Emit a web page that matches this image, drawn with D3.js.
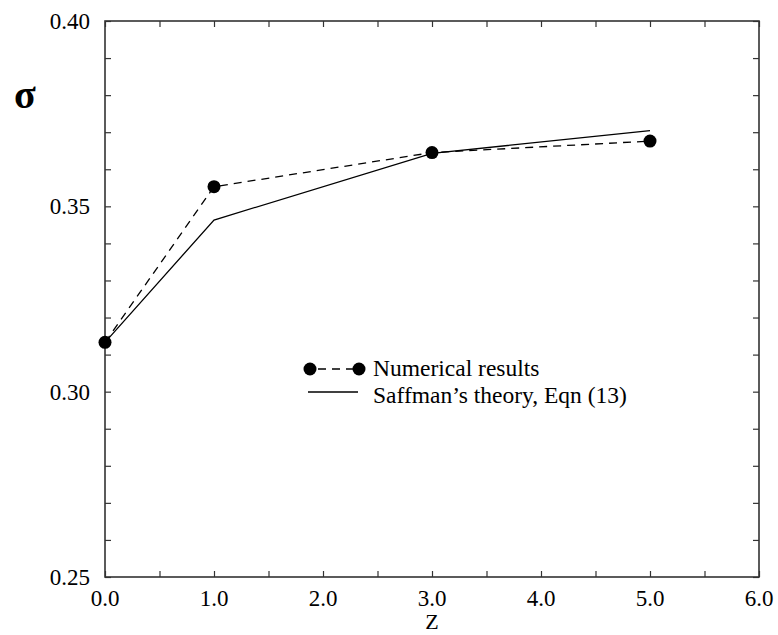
<!DOCTYPE html>
<html>
<head>
<meta charset="utf-8">
<script src="https://cdn.jsdelivr.net/npm/d3@7"></script>
<style>
  body { margin: 0; background: #fff; }
  svg { display: block; font-family: "Liberation Serif", "DejaVu Serif", serif; }
</style>
</head>
<body>
<div id="chart"></div>
<script>
// data
const zValues = [0, 1, 3, 5]
const numerical = [0.3133, 0.3553, 0.3645, 0.3676]
const saffman = [0.3133, 0.3463, 0.3643, 0.3704]
const xTicks = [0, 1, 2, 3, 4, 5, 6]
const yTicks = [0.25, 0.30, 0.35, 0.40]
const legendLabels = ["Numerical results", "Saffman\u2019s theory, Eqn (13)"]

const width = 778, height = 635
const margin = { top: 21, right: 19, bottom: 58, left: 105 }

const x = d3.scaleLinear().domain([0, 6]).range([margin.left, width - margin.right])
const y = d3.scaleLinear().domain([0.25, 0.40]).range([height - margin.bottom, margin.top])

const svg = d3.select("#chart").append("svg")
    .attr("width", width)
    .attr("height", height)

const frameColor = "#333"

// minor ticks (inward), all four sides
const xMinor = d3.range(0, 6.01, 0.5)
const yMinor = d3.range(0.25, 0.4001, 0.01)

const bottomAxis = g => g
    .attr("transform", `translate(0,${y(0.25)})`)
    .call(d3.axisBottom(x).tickValues(xMinor).tickSize(-6).tickFormat(""))
    .call(g => g.select(".domain").remove())
const topAxis = g => g
    .attr("transform", `translate(0,${y(0.40)})`)
    .call(d3.axisTop(x).tickValues(xMinor).tickSize(-6).tickFormat(""))
    .call(g => g.select(".domain").remove())
const leftAxis = g => g
    .attr("transform", `translate(${x(0)},0)`)
    .call(d3.axisLeft(y).tickValues(yMinor).tickSize(-6).tickFormat(""))
    .call(g => g.select(".domain").remove())
const rightAxis = g => g
    .attr("transform", `translate(${x(6)},0)`)
    .call(d3.axisRight(y).tickValues(yMinor).tickSize(-6).tickFormat(""))
    .call(g => g.select(".domain").remove())

;[bottomAxis, topAxis, leftAxis, rightAxis].forEach(a => {
    svg.append("g").call(a)
        .call(g => g.selectAll("line").attr("stroke", frameColor).attr("stroke-width", 1.2))
})

svg.append("rect")
    .attr("x", x(0))
    .attr("y", y(0.40))
    .attr("width", x(6) - x(0))
    .attr("height", y(0.25) - y(0.40))
    .attr("fill", "none")
    .attr("stroke", frameColor)
    .attr("stroke-width", 1.6)

// tick labels
svg.append("g")
    .selectAll("text")
    .data(xTicks)
    .join("text")
    .attr("x", d => x(d))
    .attr("y", y(0.25) + 29)
    .attr("text-anchor", "middle")
    .attr("font-size", 23)
    .text(d => d3.format(".1f")(d))

svg.append("g")
    .selectAll("text")
    .data(yTicks)
    .join("text")
    .attr("x", x(0) - 15)
    .attr("y", d => y(d) + 8)
    .attr("text-anchor", "end")
    .attr("font-size", 23)
    .text(d => d3.format(".2f")(d))

// axis titles
svg.append("text")
    .attr("x", x(3))
    .attr("y", 629)
    .attr("text-anchor", "middle")
    .attr("font-size", 22)
    .text("Z")

svg.append("text")
    .attr("x", 25)
    .attr("y", 108)
    .attr("text-anchor", "middle")
    .attr("font-size", 40)
    .attr("font-weight", "bold")
    .text("\u03c3")

// series
const line = d3.line()
    .x((d, i) => x(zValues[i]))
    .y(d => y(d))

svg.append("path")
    .datum(saffman)
    .attr("d", line)
    .attr("fill", "none")
    .attr("stroke", "#000")
    .attr("stroke-width", 1.3)

svg.append("path")
    .datum(numerical)
    .attr("d", line)
    .attr("fill", "none")
    .attr("stroke", "#000")
    .attr("stroke-width", 1.3)
    .attr("stroke-dasharray", "8,6")

svg.append("g")
    .selectAll("circle")
    .data(numerical)
    .join("circle")
    .attr("cx", (d, i) => x(zValues[i]))
    .attr("cy", d => y(d))
    .attr("r", 6.5)
    .attr("fill", "#000")

// legend
const legend = svg.append("g")
legend.append("line")
    .attr("x1", 310).attr("x2", 359)
    .attr("y1", 369).attr("y2", 369)
    .attr("stroke", "#000")
    .attr("stroke-width", 1.3)
    .attr("stroke-dasharray", "8,6")
    .attr("stroke-dashoffset", -8)
legend.selectAll("circle")
    .data([310, 359])
    .join("circle")
    .attr("cx", d => d)
    .attr("cy", 369)
    .attr("r", 6.5)
    .attr("fill", "#000")
legend.append("line")
    .attr("x1", 308).attr("x2", 358)
    .attr("y1", 392).attr("y2", 392)
    .attr("stroke", "#000")
    .attr("stroke-width", 1.3)
legend.selectAll("text")
    .data(legendLabels)
    .join("text")
    .attr("x", 373)
    .attr("y", (d, i) => 376 + i * 27)
    .attr("font-size", 23.5)
    .text(d => d)
</script>
</body>
</html>
